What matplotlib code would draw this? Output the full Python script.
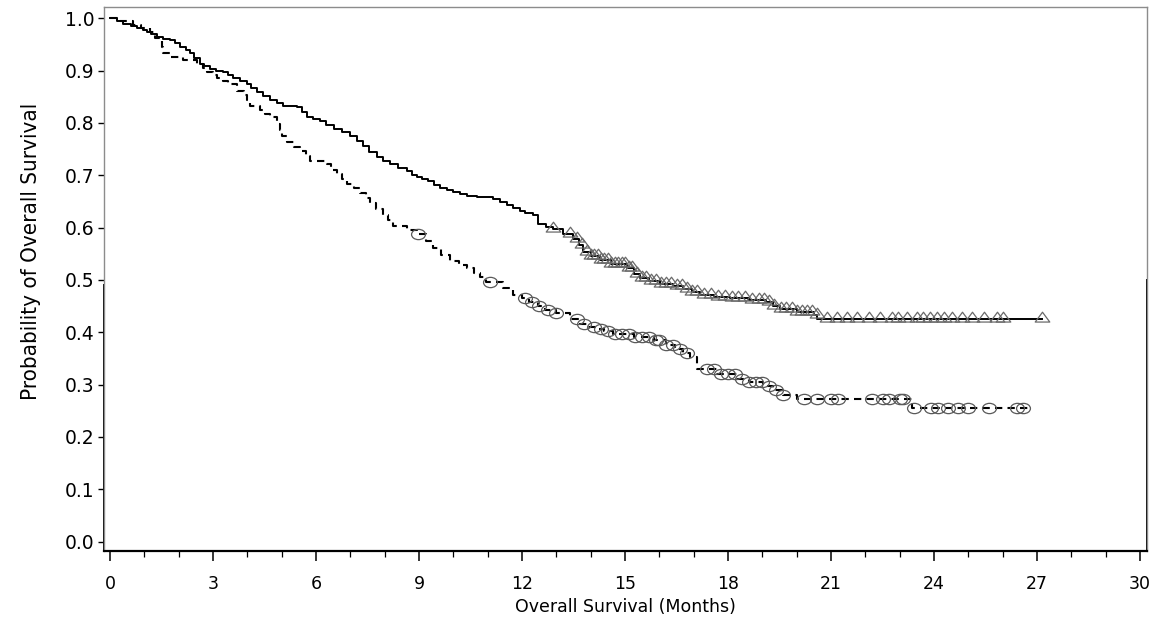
import matplotlib
matplotlib.use("Agg")
import matplotlib.pyplot as plt
import numpy as np
from matplotlib.path import Path
from matplotlib.ticker import MultipleLocator

# Kaplan-Meier step points (months, survival)
solid_t = [0, 0.2, 0.39, 0.6, 0.78, 0.95, 1.07, 1.2, 1.36, 1.55, 1.75, 1.9, 2.04, 2.2,
           2.33, 2.45, 2.62, 2.75, 2.91, 3.1, 3.3, 3.45, 3.59, 3.8, 3.98, 4.1, 4.27,
           4.45, 4.66, 4.85, 5.05, 5.44, 5.6, 5.73, 5.9, 6.12, 6.3, 6.51, 6.75, 7.0,
           7.2, 7.38, 7.55, 7.77, 7.95, 8.16, 8.4, 8.64, 8.8, 8.93, 9.1, 9.27, 9.45,
           9.61, 9.8, 10.0, 10.2, 10.39, 10.7, 11.16, 11.35, 11.55, 11.75, 11.94,
           12.1, 12.33, 12.47, 12.7, 12.9, 13.2, 13.49, 13.65, 13.78, 14.0, 14.27,
           14.6, 15.05, 15.25, 15.44, 15.7, 16.02, 16.4, 16.69, 16.95, 17.19, 17.6,
           18.06, 18.6, 19.1, 19.3, 19.5, 20.0, 20.5, 20.6, 27.14]
solid_s = [1.0, 0.995, 0.990, 0.985, 0.981, 0.977, 0.974, 0.970, 0.965, 0.961, 0.958,
           0.952, 0.946, 0.940, 0.933, 0.925, 0.913, 0.908, 0.904, 0.900, 0.897,
           0.891, 0.885, 0.880, 0.875, 0.867, 0.859, 0.851, 0.843, 0.838, 0.833,
           0.830, 0.820, 0.811, 0.808, 0.804, 0.796, 0.788, 0.782, 0.776, 0.766,
           0.756, 0.745, 0.734, 0.728, 0.721, 0.714, 0.708, 0.701, 0.696, 0.692,
           0.689, 0.682, 0.676, 0.672, 0.668, 0.664, 0.660, 0.658, 0.654, 0.649,
           0.644, 0.637, 0.631, 0.628, 0.625, 0.606, 0.601, 0.597, 0.588, 0.578,
           0.566, 0.554, 0.546, 0.539, 0.530, 0.522, 0.512, 0.503, 0.498, 0.493,
           0.488, 0.483, 0.477, 0.472, 0.468, 0.465, 0.462, 0.458, 0.451, 0.445,
           0.439, 0.433, 0.426, 0.426]

dashed_t = [0, 0.3, 0.68, 0.9, 1.17, 1.31, 1.5, 1.55, 1.75, 2.14, 2.53, 2.7, 2.82, 3.0,
            3.11, 3.3, 3.45, 3.69, 3.89, 4.0, 4.08, 4.37, 4.5, 4.66, 4.86, 4.95, 5.0,
            5.15, 5.35, 5.53, 5.7, 5.83, 6.31, 6.45, 6.6, 6.75, 6.9, 7.1, 7.28, 7.45,
            7.57, 7.75, 7.96, 8.1, 8.25, 8.64, 8.93, 9.2, 9.42, 9.65, 9.9, 10.15,
            10.39, 10.6, 10.78, 10.95, 11.45, 11.75, 12.0, 12.2, 12.45, 12.67, 13.0,
            13.4, 13.69, 13.9, 14.18, 14.4, 14.66, 15.25, 15.83, 16.2, 16.45, 16.7,
            16.9, 17.09, 17.67, 18.25, 18.6, 19.03, 19.3, 19.6, 20.0, 23.35, 26.8]
dashed_s = [1.0, 0.994, 0.987, 0.981, 0.974, 0.962, 0.946, 0.933, 0.926, 0.920, 0.913,
            0.905, 0.897, 0.891, 0.885, 0.880, 0.875, 0.862, 0.853, 0.843, 0.833,
            0.824, 0.818, 0.811, 0.798, 0.787, 0.776, 0.763, 0.755, 0.747, 0.737,
            0.728, 0.721, 0.711, 0.702, 0.692, 0.683, 0.675, 0.667, 0.657, 0.647,
            0.636, 0.625, 0.614, 0.603, 0.596, 0.587, 0.574, 0.561, 0.548, 0.536,
            0.529, 0.522, 0.514, 0.506, 0.497, 0.484, 0.472, 0.465, 0.458, 0.450,
            0.443, 0.437, 0.426, 0.416, 0.411, 0.407, 0.402, 0.397, 0.391, 0.385,
            0.375, 0.368, 0.361, 0.353, 0.330, 0.320, 0.310, 0.305, 0.298, 0.290,
            0.281, 0.272, 0.256, 0.256]

# censoring times
solid_cens = [12.9, 13.4, 13.6, 13.75, 13.9, 14.0, 14.1, 14.2, 14.3, 14.4, 14.5, 14.6,
              14.7, 14.8, 14.9, 15.0, 15.1, 15.2, 15.35, 15.5, 15.6, 15.75, 15.9, 16.05,
              16.2, 16.35, 16.5, 16.65, 16.8, 16.95, 17.1, 17.3, 17.5, 17.7, 17.9, 18.1,
              18.3, 18.5, 18.7, 18.9, 19.05, 19.2, 19.35, 19.55, 19.7, 19.85, 20.0,
              20.15, 20.3, 20.45, 20.58, 20.88, 21.17, 21.46, 21.75, 22.09, 22.43,
              22.77, 22.96, 23.21, 23.5, 23.69, 23.89, 24.08, 24.28, 24.52, 24.81,
              25.1, 25.44, 25.83, 26.02, 27.14]
dashed_cens = [8.98, 11.07, 12.09, 12.3, 12.5, 12.75, 13.0, 13.6, 13.8, 14.1, 14.3, 14.5,
               14.7, 14.9, 15.1, 15.3, 15.5, 15.7, 15.9, 16.0, 16.2, 16.4, 16.6, 16.8,
               17.4, 17.6, 17.8, 18.0, 18.2, 18.4, 18.6, 18.8, 19.0, 19.2, 19.4, 19.6,
               20.2, 20.6, 21.0, 21.2, 22.2, 22.5, 22.7, 23.0, 23.1, 23.4, 23.9, 24.1,
               24.4, 24.7, 25.0, 25.6, 26.4, 26.6]

x_ticks = np.arange(0, 31, 3)
y_ticks = np.round(np.arange(0, 1.01, 0.1), 1)


def km_at(times, surv, t):
    idx = np.searchsorted(times, t, side="right") - 1
    return np.asarray(surv)[idx]


# wide ellipse and wide triangle markers like the SAS output
circ = Path.unit_circle()
ellipse = Path(circ.vertices * [1.35, 1.0], circ.codes)
tri = Path([(-1.0, -0.35), (1.0, -0.35), (0.0, 1.0), (-1.0, -0.35)],
           [Path.MOVETO, Path.LINETO, Path.LINETO, Path.CLOSEPOLY])

fig = plt.figure(figsize=(11.61, 6.22), dpi=100)
ax = fig.add_axes([104 / 1161, 71 / 622, 1043 / 1161, 544 / 622])

ax.plot(solid_t, solid_s, drawstyle="steps-post", color="black", lw=1.4)
ax.plot(dashed_t, dashed_s, drawstyle="steps-post", color="black", lw=1.5,
        linestyle=(0, (3.5, 2.5)))

ax.plot(solid_cens, km_at(solid_t, solid_s, solid_cens), linestyle="none",
        marker=tri, markersize=10.5, markerfacecolor="none", markeredgecolor="#6a6a6a",
        markeredgewidth=0.9)
ax.plot(dashed_cens, km_at(dashed_t, dashed_s, dashed_cens), linestyle="none",
        marker=ellipse, markersize=10, markerfacecolor="none", markeredgecolor="#5a5a5a",
        markeredgewidth=0.9)

ax.set_xlim(-0.175, 30.2)
ax.set_ylim(-0.018, 1.0216)
ax.set_xticks(x_ticks)
ax.xaxis.set_minor_locator(MultipleLocator(1))
ax.set_yticks(y_ticks)
ax.set_yticklabels([f"{v:.1f}" for v in y_ticks])

ax.tick_params(axis="x", which="major", length=7, width=1.1, labelsize=12.5, pad=10)
ax.tick_params(axis="x", which="minor", length=4, width=0.9)
ax.tick_params(axis="y", length=4, width=1.0, labelsize=13.5, pad=3)

ax.set_xlabel("Overall Survival (Months)", fontsize=12.5, labelpad=4)
ax.set_ylabel("Probability of Overall Survival", fontsize=16, fontstretch="condensed")
ax.yaxis.set_label_coords(-0.06, 0.55)

for side in ["top", "right", "left"]:
    ax.spines[side].set_color("#8c8c8c")
    ax.spines[side].set_linewidth(1.0)
ax.spines["bottom"].set_linewidth(1.6)
ax.spines["bottom"].set_color("black")
# darker lower half of the side frame lines
ax.plot([0, 0], [-0.018, 0.49], transform=ax.get_yaxis_transform(), color="black",
        lw=1.4, clip_on=False)
ax.plot([1, 1], [-0.018, 0.50], transform=ax.get_yaxis_transform(), color="black",
        lw=1.4, clip_on=False)

# title, cut off by the top edge of the image
fig.text(862 / 1161, 1 + 4 / 622,
         "Kaplan-Meier plot of overall survival in patients with prior platinum therapy (ITT, Oncology)",
         ha="right", va="baseline", fontsize=13, fontweight="bold")

fig.savefig("out.png", dpi=100)
